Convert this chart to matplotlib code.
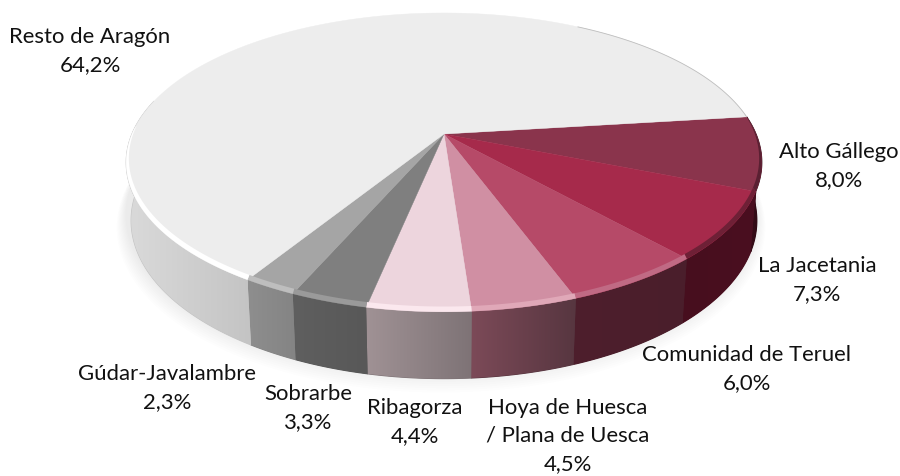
#!/usr/bin/env python3

import numpy as np
import matplotlib
matplotlib.use("Agg")
import matplotlib.pyplot as plt
from matplotlib.colors import LinearSegmentedColormap, to_rgb
from matplotlib.patches import Polygon

plt.rcParams['font.family'] = ['Lato', 'DejaVu Sans']

# Clockwise from the first slice, as in the chart
names = ["Alto Gállego", "La Jacetania", "Comunidad de Teruel",
         "Hoya de Huesca\n/ Plana de Uesca", "Ribagorza", "Sobrarbe",
         "Gúdar-Javalambre", "Resto de Aragón"]
values = [8.0, 7.3, 6.0, 4.5, 4.4, 3.3, 2.3, 64.2]

top_colors = ["#8A344C", "#A62A4B", "#B64A68", "#D08FA3", "#EDD5DD", "#7F7F7F", "#A5A5A5", "#EDEDED"]
# wall shading, left end then right end of each slice on screen
side_left = ["#3E0D1A", "#470E1E", "#4E1F2D", "#7C4A58", "#A09295", "#5F5F5F", "#8E8E8E", "#DADADA"]
side_right = ["#2E0A14", "#4A0F20", "#4A1E2B", "#573640", "#7E7376", "#585858", "#848484", "#C4C4C4"]
rim_colors = ["#5A2032", "#6E2036", "#C06A84", "#E0A8B8", "#FBE8EE", "#9A9A9A", "#BEBEBE", "#FFFFFF"]

label_x = [839, 817, 747, 568, 415, 308, 167, 90]
label_y = [166, 280, 369, 436, 422, 408, 388, 51]

# Perspective of the disc, in pixels of the picture
CX, CY, AX, AY, K, DEPTH = 444, 134, 312, 144, 0.19, 57
START = 7.0


def project(t, r=1.0, z=0.0):
    u = r * np.cos(t)
    v = r * np.sin(t)
    w = 1 + K * v
    return CX + AX * u / w, CY - AY * v / w + DEPTH * z / w


fig = plt.figure(figsize=(9, 4.76), dpi=100)
ax = fig.add_axes([0, 0, 1, 1])

# Soft shadow under the disc
circle = np.linspace(0, 2 * np.pi, 300)
for i in range(10):
    sx, sy = project(circle, 1.02 - i * 0.003, 1.08 - i * 0.02)
    ax.fill(sx - 3, sy, color="#000000", alpha=0.009, lw=0)

edges = np.radians(START - np.cumsum([0] + values) * 3.6)

# Side walls, a horizontal gradient clipped to each wall
for i in range(len(values)):
    t = np.linspace(edges[i], edges[i + 1], 300 if i == 7 else 60)
    if i == 7:
        t = t[(np.sin(t) < 0.25) & (t > np.radians(-195))]
    x1, y1 = project(t)
    x2, y2 = project(t[::-1], 0.985, 1.0)
    poly = Polygon(np.c_[np.r_[x1, x2], np.r_[y1, y2]], closed=True,
                   fc=side_right[i], ec=side_right[i], lw=0.8, zorder=1.4)
    ax.add_patch(poly)
    cmap = LinearSegmentedColormap.from_list("w", [to_rgb(side_left[i]), to_rgb(side_right[i])])
    xs = np.r_[x1, x2]
    ys = np.r_[y1, y2]
    im = ax.imshow(np.linspace(0, 1, 256)[None, :], cmap=cmap, aspect="auto",
                   extent=[xs.min(), xs.max(), ys.max(), ys.min()], zorder=1.5)
    im.set_clip_path(poly)

# Top face and the bevel along its front edge
for i in range(len(values)):
    t = np.linspace(edges[i], edges[i + 1], 300 if i == 7 else 60)
    x, y = project(t)
    ax.fill(np.r_[CX, x], np.r_[CY, y], color=top_colors[i], lw=0.3, zorder=2)
    tb = t
    if i == 7:
        tb = t[(np.sin(t) < 0.05) & (t > np.radians(-192))]
    x1, y1 = project(tb)
    x2, y2 = project(tb[::-1], 0.992, 0.0)
    ax.fill(np.r_[x1, x2], np.r_[y1, y2 - 3.5], color=rim_colors[i], lw=0, zorder=2.1)

# Thin grey line on the far edge of the largest slice
t = np.linspace(edges[0], np.radians(60), 80)
x, y = project(t)
ax.plot(x, y, color="#BEBEBE", lw=0.6, zorder=2.2)

for name, v, lx, ly in zip(names, values, label_x, label_y):
    pct = f"{v:.1f}".replace(".", ",") + "%"
    ax.text(lx, ly, f"{name}\n{pct}", ha="center", va="center", fontsize=15.9,
            color="#111111", linespacing=1.48, zorder=3)

ax.set_xlim(0, 900)
ax.set_ylim(476, 0)
ax.axis("off")

fig.savefig("out.png", dpi=100)
